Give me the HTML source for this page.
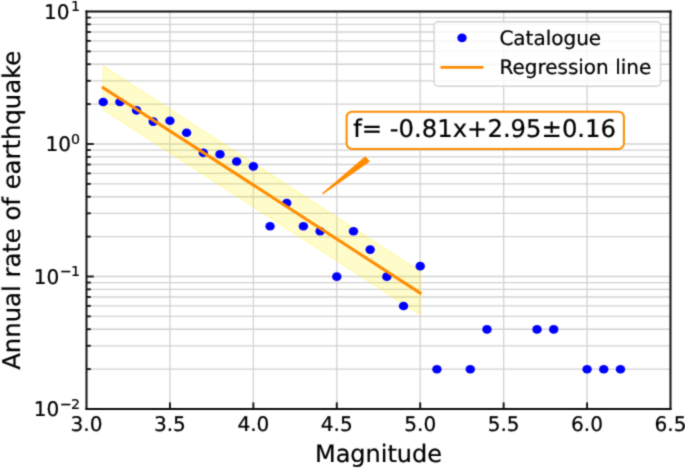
<!DOCTYPE html>
<html><head><meta charset="utf-8"><title>Magnitude-frequency plot</title><style>
html,body{margin:0;padding:0;background:#fff;width:685px;height:469px;overflow:hidden}
svg{display:block}
</style></head><body>
<svg width="685" height="469" viewBox="0 0 685 469" font-family="'DejaVu Sans', 'Liberation Sans', sans-serif" text-rendering="geometricPrecision"><defs><filter id="bl" x="0" y="0" width="685" height="469" filterUnits="userSpaceOnUse" color-interpolation-filters="sRGB"><feConvolveMatrix order="3" kernelMatrix="0.02768 0.11101 0.02768 0.11101 0.44521 0.11101 0.02768 0.11101 0.02768" divisor="1" edgeMode="duplicate"/></filter></defs><g filter="url(#bl)"><rect width="685" height="469" fill="#fff"/>
<g stroke="#d2d2d2" stroke-width="1.3"><line x1="86.50" y1="369.11" x2="670.50" y2="369.11"/><line x1="86.50" y1="345.78" x2="670.50" y2="345.78"/><line x1="86.50" y1="329.23" x2="670.50" y2="329.23"/><line x1="86.50" y1="316.39" x2="670.50" y2="316.39"/><line x1="86.50" y1="305.89" x2="670.50" y2="305.89"/><line x1="86.50" y1="297.02" x2="670.50" y2="297.02"/><line x1="86.50" y1="289.34" x2="670.50" y2="289.34"/><line x1="86.50" y1="282.56" x2="670.50" y2="282.56"/><line x1="86.50" y1="276.50" x2="670.50" y2="276.50"/><line x1="86.50" y1="236.61" x2="670.50" y2="236.61"/><line x1="86.50" y1="213.28" x2="670.50" y2="213.28"/><line x1="86.50" y1="196.73" x2="670.50" y2="196.73"/><line x1="86.50" y1="183.89" x2="670.50" y2="183.89"/><line x1="86.50" y1="173.39" x2="670.50" y2="173.39"/><line x1="86.50" y1="164.52" x2="670.50" y2="164.52"/><line x1="86.50" y1="156.84" x2="670.50" y2="156.84"/><line x1="86.50" y1="150.06" x2="670.50" y2="150.06"/><line x1="86.50" y1="144.00" x2="670.50" y2="144.00"/><line x1="86.50" y1="104.11" x2="670.50" y2="104.11"/><line x1="86.50" y1="80.78" x2="670.50" y2="80.78"/><line x1="86.50" y1="64.23" x2="670.50" y2="64.23"/><line x1="86.50" y1="51.39" x2="670.50" y2="51.39"/><line x1="86.50" y1="40.89" x2="670.50" y2="40.89"/><line x1="86.50" y1="32.02" x2="670.50" y2="32.02"/><line x1="86.50" y1="24.34" x2="670.50" y2="24.34"/><line x1="86.50" y1="17.56" x2="670.50" y2="17.56"/><line x1="169.93" y1="11.50" x2="169.93" y2="409.00"/><line x1="253.36" y1="11.50" x2="253.36" y2="409.00"/><line x1="336.79" y1="11.50" x2="336.79" y2="409.00"/><line x1="420.21" y1="11.50" x2="420.21" y2="409.00"/><line x1="503.64" y1="11.50" x2="503.64" y2="409.00"/><line x1="587.07" y1="11.50" x2="587.07" y2="409.00"/></g>
<polygon points="103.19,66.04 420.21,271.36 420.21,314.76 103.19,109.44" fill="#fff000" fill-opacity="0.2" stroke="#fff000" stroke-opacity="0.2" stroke-width="1.6"/>
<g fill="#0000ff"><ellipse cx="103.19" cy="102.01" rx="4.7" ry="4.3"/><ellipse cx="119.87" cy="102.01" rx="4.7" ry="4.3"/><ellipse cx="136.56" cy="110.33" rx="4.7" ry="4.3"/><ellipse cx="153.24" cy="121.59" rx="4.7" ry="4.3"/><ellipse cx="169.93" cy="120.82" rx="4.7" ry="4.3"/><ellipse cx="186.61" cy="132.71" rx="4.7" ry="4.3"/><ellipse cx="203.30" cy="152.83" rx="4.7" ry="4.3"/><ellipse cx="219.99" cy="154.18" rx="4.7" ry="4.3"/><ellipse cx="236.67" cy="161.48" rx="4.7" ry="4.3"/><ellipse cx="253.36" cy="166.34" rx="4.7" ry="4.3"/><ellipse cx="270.04" cy="226.27" rx="4.7" ry="4.3"/><ellipse cx="286.73" cy="202.94" rx="4.7" ry="4.3"/><ellipse cx="303.41" cy="226.27" rx="4.7" ry="4.3"/><ellipse cx="320.10" cy="231.28" rx="4.7" ry="4.3"/><ellipse cx="336.79" cy="276.65" rx="4.7" ry="4.3"/><ellipse cx="353.47" cy="231.28" rx="4.7" ry="4.3"/><ellipse cx="370.16" cy="249.60" rx="4.7" ry="4.3"/><ellipse cx="386.84" cy="276.65" rx="4.7" ry="4.3"/><ellipse cx="403.53" cy="306.04" rx="4.7" ry="4.3"/><ellipse cx="420.21" cy="266.16" rx="4.7" ry="4.3"/><ellipse cx="436.90" cy="369.26" rx="4.7" ry="4.3"/><ellipse cx="470.27" cy="369.26" rx="4.7" ry="4.3"/><ellipse cx="486.96" cy="329.38" rx="4.7" ry="4.3"/><ellipse cx="537.01" cy="329.38" rx="4.7" ry="4.3"/><ellipse cx="553.70" cy="329.38" rx="4.7" ry="4.3"/><ellipse cx="587.07" cy="369.26" rx="4.7" ry="4.3"/><ellipse cx="603.76" cy="369.26" rx="4.7" ry="4.3"/><ellipse cx="620.44" cy="369.26" rx="4.7" ry="4.3"/></g>
<line x1="103.19" y1="87.74" x2="420.21" y2="293.06" stroke="#ff8c00" stroke-width="3" stroke-linecap="square"/>
<path d="M86.50,10.40V410.10M670.50,10.40V410.10" fill="none" stroke="#111" stroke-width="2"/>
<path d="M85.50,11.50H671.50M85.50,409.00H671.50" fill="none" stroke="#0a0a0a" stroke-width="2.2"/>
<g stroke="#111" stroke-width="1.9"><line x1="169.93" y1="409.00" x2="169.93" y2="402.40"/><line x1="253.36" y1="409.00" x2="253.36" y2="402.40"/><line x1="336.79" y1="409.00" x2="336.79" y2="402.40"/><line x1="420.21" y1="409.00" x2="420.21" y2="402.40"/><line x1="503.64" y1="409.00" x2="503.64" y2="402.40"/><line x1="587.07" y1="409.00" x2="587.07" y2="402.40"/><line x1="86.50" y1="369.11" x2="90.80" y2="369.11"/><line x1="86.50" y1="345.78" x2="90.80" y2="345.78"/><line x1="86.50" y1="329.23" x2="90.80" y2="329.23"/><line x1="86.50" y1="316.39" x2="90.80" y2="316.39"/><line x1="86.50" y1="305.89" x2="90.80" y2="305.89"/><line x1="86.50" y1="297.02" x2="90.80" y2="297.02"/><line x1="86.50" y1="289.34" x2="90.80" y2="289.34"/><line x1="86.50" y1="282.56" x2="90.80" y2="282.56"/><line x1="86.50" y1="276.50" x2="93.80" y2="276.50"/><line x1="86.50" y1="236.61" x2="90.80" y2="236.61"/><line x1="86.50" y1="213.28" x2="90.80" y2="213.28"/><line x1="86.50" y1="196.73" x2="90.80" y2="196.73"/><line x1="86.50" y1="183.89" x2="90.80" y2="183.89"/><line x1="86.50" y1="173.39" x2="90.80" y2="173.39"/><line x1="86.50" y1="164.52" x2="90.80" y2="164.52"/><line x1="86.50" y1="156.84" x2="90.80" y2="156.84"/><line x1="86.50" y1="150.06" x2="90.80" y2="150.06"/><line x1="86.50" y1="144.00" x2="93.80" y2="144.00"/><line x1="86.50" y1="104.11" x2="90.80" y2="104.11"/><line x1="86.50" y1="80.78" x2="90.80" y2="80.78"/><line x1="86.50" y1="64.23" x2="90.80" y2="64.23"/><line x1="86.50" y1="51.39" x2="90.80" y2="51.39"/><line x1="86.50" y1="40.89" x2="90.80" y2="40.89"/><line x1="86.50" y1="32.02" x2="90.80" y2="32.02"/><line x1="86.50" y1="24.34" x2="90.80" y2="24.34"/><line x1="86.50" y1="17.56" x2="90.80" y2="17.56"/></g>
<g font-size="20.1" fill="#000" stroke="#000" stroke-width="0.22"><text transform="translate(86.50,431.4) scale(1,1.0)" text-anchor="middle">3.0</text><text transform="translate(169.93,431.4) scale(1,1.0)" text-anchor="middle">3.5</text><text transform="translate(253.36,431.4) scale(1,1.0)" text-anchor="middle">4.0</text><text transform="translate(336.79,431.4) scale(1,1.0)" text-anchor="middle">4.5</text><text transform="translate(420.21,431.4) scale(1,1.0)" text-anchor="middle">5.0</text><text transform="translate(503.64,431.4) scale(1,1.0)" text-anchor="middle">5.5</text><text transform="translate(587.07,431.4) scale(1,1.0)" text-anchor="middle">6.0</text><text transform="translate(670.50,431.4) scale(1,1.0)" text-anchor="middle">6.5</text></g>
<g font-size="20.1" fill="#000" stroke="#000" stroke-width="0.22"><text x="80.00" y="408.60" font-size="14.2" text-rendering="auto" text-anchor="end">−<tspan dx="-0.9">2</tspan></text><text x="59.37" y="416.30" text-anchor="end">10</text><text x="80.00" y="276.10" font-size="14.2" text-rendering="auto" text-anchor="end">−<tspan dx="-0.9">1</tspan></text><text x="59.37" y="283.80" text-anchor="end">10</text><text x="80.00" y="143.60" font-size="14.2" text-rendering="auto" text-anchor="end">0</text><text x="70.97" y="151.30" text-anchor="end">10</text><text x="80.00" y="11.10" font-size="14.2" text-rendering="auto" text-anchor="end">1</text><text x="69.67" y="18.80" text-anchor="end">10</text></g>
<text x="378.50" y="462.2" font-size="24.0" text-anchor="middle" stroke="#000" stroke-width="0.22">Magnitude</text>
<text transform="translate(19.9,210.25) rotate(-90)" x="0" y="0" font-size="24.3" text-anchor="middle" stroke="#000" stroke-width="0.22">Annual rate of earthquake</text>
<rect x="434.1" y="21.8" width="226.5" height="64.5" rx="4" ry="4" fill="#fff" fill-opacity="0.8" stroke="#d4d4d4" stroke-width="1.4"/>
<ellipse cx="462" cy="37.9" rx="4.7" ry="4.3" fill="#0000ff"/>
<line x1="440.5" y1="67.4" x2="483.5" y2="67.4" stroke="#ff8c00" stroke-width="2.8"/>
<text x="499.4" y="45.2" font-size="20.0" stroke="#000" stroke-width="0.22">Catalogue</text>
<text x="499.4" y="74.4" font-size="20.0" stroke="#000" stroke-width="0.22">Regression line</text>
<polygon points="322.9,193.5 365.2,157.3 368.9,161.4" fill="#ff8c00" stroke="#ff8c00" stroke-width="1.5" stroke-linejoin="round"/>
<rect x="346.6" y="111.7" width="277.3" height="37.2" rx="5.5" ry="5.5" fill="#fff" stroke="#ff8c00" stroke-width="2"/>
<text x="353.2" y="137" font-size="24.3" stroke="#000" stroke-width="0.22">f= -0.81x+2.95±0.16</text>
</g></svg>
</body></html>
